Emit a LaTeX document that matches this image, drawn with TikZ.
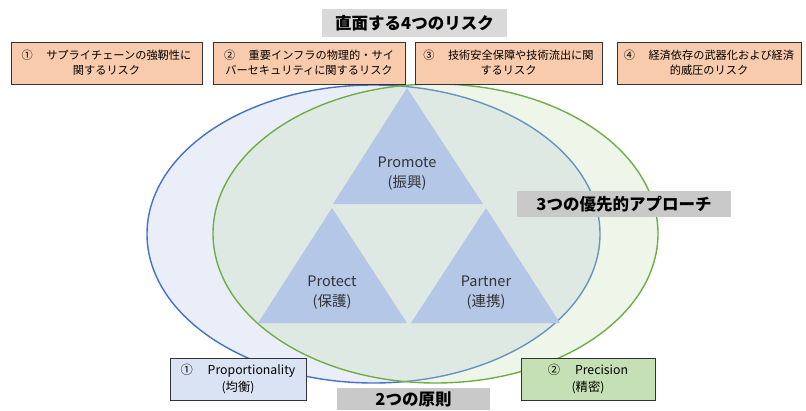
\documentclass[tikz,border=0pt]{standalone}
\usepackage{fontspec}
\setmainfont{Noto Sans CJK JP}
\begin{document}
\begin{tikzpicture}[x=1pt,y=-1pt,
  riskbox/.style={draw=black!80,line width=0.7pt,fill=riskfill,minimum height=42pt,inner sep=0pt,align=center,font=\fontsize{11.2}{15}\selectfont},
  graybox/.style={fill=#1,inner sep=0pt,font=\bfseries\fontsize{16.5}{18}\selectfont},
  tri/.style={fill=trifill},
  trilabel/.style={align=center,font=\fontsize{14.5}{20}\selectfont,text=black!80},
  prinbox/.style={draw=black!80,line width=0.7pt,fill=#1,minimum width=135pt,minimum height=42pt,inner sep=0pt,align=center,font=\fontsize{12.3}{17}\selectfont}
]
\definecolor{riskfill}{RGB}{248,203,173}
\definecolor{trifill}{RGB}{180,199,231}
\definecolor{blueline}{RGB}{68,114,196}
\definecolor{bluefill}{RGB}{233,238,248}
\definecolor{greenline}{RGB}{112,173,71}
\definecolor{greenfill}{RGB}{197,224,180}
\definecolor{grayA}{RGB}{217,217,217}
\definecolor{grayB}{RGB}{201,201,201}
\definecolor{propfill}{RGB}{218,227,243}
\useasboundingbox (0,0) rectangle (806,410);
% ellipses
\draw[blueline,line width=1.4pt,fill=bluefill] (373.5,234) ellipse [x radius=226.5,y radius=149];
\draw[greenline,line width=1.4pt,fill=greenfill,fill opacity=0.3,draw opacity=1] (435.5,233.5) ellipse [x radius=222.5,y radius=149.5];
% triangles
\fill[tri] (407,88) -- (483,204) -- (333,204) -- cycle;
\fill[tri] (332,208) -- (407,323) -- (258,323) -- cycle;
\fill[tri] (486,208) -- (560,323) -- (411,323) -- cycle;
\node[trilabel] (promote) at (407,174) {Promote\\(振興)};
\node[trilabel] (protect) at (332,293) {Protect\\(保護)};
\node[trilabel] (partner) at (486,293) {Partner\\(連携)};
% title
\node[graybox=grayA,minimum width=185pt,minimum height=28pt] (title) at (414.5,23) {直面する4つのリスク};
% risk boxes
\node[riskbox,minimum width=191pt] (r1) at (106.5,63) {①\hspace{1.2em}サプライチェーンの強靭性に\\関するリスク};
\node[riskbox,minimum width=192pt] (r2) at (309,63) {②\hspace{1.2em}重要インフラの物理的・サイ\\バーセキュリティに関するリスク};
\node[riskbox,minimum width=187pt] (r3) at (508.5,63) {③\hspace{1.2em}技術安全保障や技術流出に関\\するリスク};
\node[riskbox,minimum width=184pt] (r4) at (709,63) {④\hspace{1.2em}経済依存の武器化および経済\\的威圧のリスク};
% approach label
\node[graybox=grayB,minimum width=214pt,minimum height=26pt] (approach) at (624,204) {3つの優先的アプローチ};
% principles
\node[prinbox=propfill,minimum width=136pt] (prop) at (238,379) {①\hspace{1.2em}Proportionality\\(均衡)};
\node[prinbox=greenfill,minimum width=134pt] (prec) at (588,379) {②\hspace{1.2em}Precision\\(精密)};
\node[graybox=grayB,minimum width=153pt,minimum height=22pt] (principles) at (413.5,399) {2つの原則};
\end{tikzpicture}
\end{document}
